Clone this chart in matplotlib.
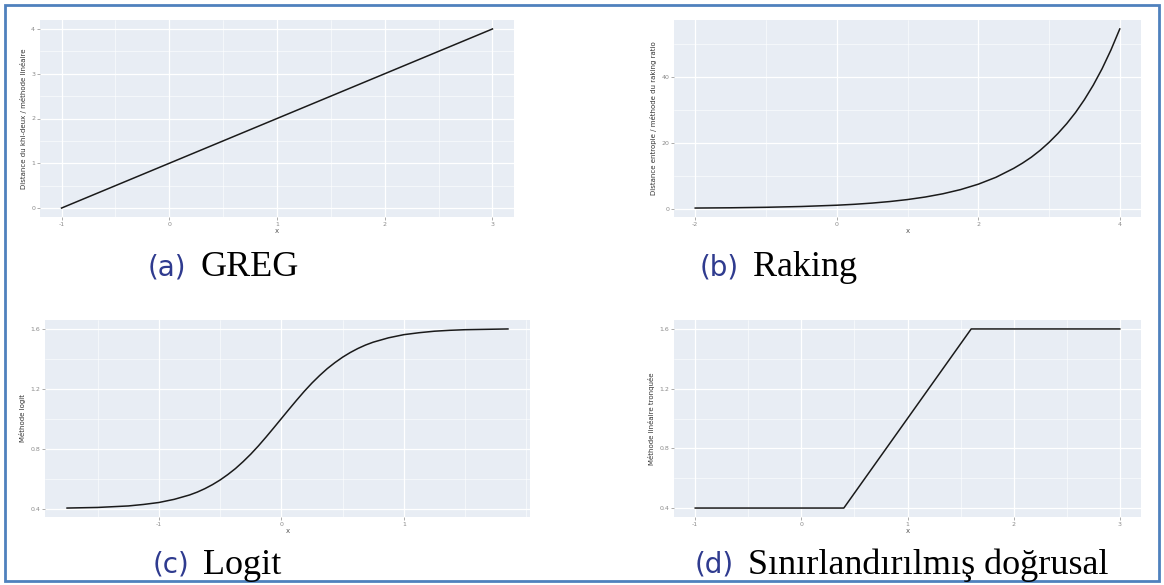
"""Four calibration distance functions (GREG, raking, logit, truncated linear)."""

import matplotlib.pyplot as plt
from matplotlib.ticker import AutoMinorLocator

# ── data ────────────────────────────────────────────────────────

greg_x = [-1, 3]
greg_y = [0, 4]

raking_x = [-2, -1.5, -1, -0.5, 0, 0.25, 0.5, 0.75, 1, 1.25, 1.5, 1.75, 2,
            2.25, 2.5, 2.625, 2.75, 2.875, 3, 3.125, 3.25, 3.375, 3.5,
            3.625, 3.75, 3.875, 4]
raking_y = [0.14, 0.22, 0.37, 0.61, 1.0, 1.28, 1.65, 2.12, 2.72, 3.49, 4.48,
            5.75, 7.39, 9.49, 12.2, 13.8, 15.6, 17.7, 20.1, 22.8, 25.8,
            29.2, 33.1, 37.5, 42.5, 48.2, 54.6]

logit_x = [-1.75, -1.5, -1.25, -1.125, -1.0, -0.875, -0.75, -0.6875, -0.625,
           -0.5625, -0.5, -0.4375, -0.375, -0.3125, -0.25, -0.1875, -0.125,
           -0.0625, 0, 0.0625, 0.125, 0.1875, 0.25, 0.3125, 0.375, 0.4375,
           0.5, 0.5625, 0.625, 0.6875, 0.75, 0.875, 1.0, 1.125, 1.25, 1.375,
           1.5, 1.85]
logit_y = [0.404, 0.408, 0.418, 0.428, 0.441, 0.462, 0.491, 0.510, 0.533,
           0.560, 0.591, 0.627, 0.667, 0.713, 0.763, 0.818, 0.877, 0.938,
           1.0, 1.062, 1.123, 1.182, 1.237, 1.287, 1.333, 1.373, 1.409,
           1.440, 1.467, 1.490, 1.509, 1.538, 1.559, 1.572, 1.582, 1.588,
           1.592, 1.597]

trunc_x = [-1, 0.4, 1.6, 3]
trunc_y = [0.4, 0.4, 1.6, 1.6]

panels = [
    # data, ticks, y label, pixel box (left, top, right, bottom),
    # caption anchor = (left edge of the caption word, vertical centre)
    dict(x=greg_x, y=greg_y, xticks=[-1, 0, 1, 2, 3], yticks=[0, 1, 2, 3, 4],
         ylabel="Distance du khi-deux / méthode linéaire",
         box=(40, 20, 514, 217), tag="(a)", name="GREG", cap=(200, 268)),
    dict(x=raking_x, y=raking_y, xticks=[-2, 0, 2, 4], yticks=[0, 20, 40],
         ylabel="Distance entropie / méthode du raking ratio",
         box=(674, 20, 1141, 217), tag="(b)", name="Raking", cap=(753, 268)),
    dict(x=logit_x, y=logit_y, xticks=[-1, 0, 1], yticks=[0.4, 0.8, 1.2, 1.6],
         ylabel="Méthode logit",
         box=(45, 320, 530, 517), tag="(c)", name="Logit", cap=(203, 565)),
    dict(x=trunc_x, y=trunc_y, xticks=[-1, 0, 1, 2, 3],
         yticks=[0.4, 0.8, 1.2, 1.6],
         ylabel="Méthode linéaire tronquée",
         box=(674, 320, 1141, 517), tag="(d)", name="Sınırlandırılmış doğrusal",
         cap=(748, 565)),
]

W, H = 1164, 585
PANEL_BG = '#e8edf4'
TICK_GREY = '#8a8a8a'
TAG_BLUE = '#2f3b8f'


def px_box(left, top, right, bottom):
    return [left / W, 1 - bottom / H, (right - left) / W, (bottom - top) / H]


def expand(vals, frac=0.05):
    lo, hi = min(vals), max(vals)
    pad = (hi - lo) * frac
    return lo - pad, hi + pad


def fmt(v):
    return f"{v:g}"


fig = plt.figure(figsize=(W / 100, H / 100), dpi=100)
fig.patch.set_facecolor('white')

for p in panels:
    ax = fig.add_axes(px_box(*p['box']))
    ax.set_facecolor(PANEL_BG)
    ax.plot(p['x'], p['y'], color='#1a1a1a', lw=1.1)
    ax.set_xlim(*expand(p['x']))
    ax.set_ylim(*expand(p['y']))

    ax.set_xticks(p['xticks'])
    ax.set_yticks(p['yticks'])
    ax.set_xticklabels([fmt(t) for t in p['xticks']])
    ax.set_yticklabels([fmt(t) for t in p['yticks']])
    ax.xaxis.set_minor_locator(AutoMinorLocator(2))
    ax.yaxis.set_minor_locator(AutoMinorLocator(2))
    ax.grid(which='major', color='white', lw=0.9)
    ax.grid(which='minor', color='white', lw=0.4)
    ax.tick_params(which='major', length=2, width=0.5, color=TICK_GREY,
                   labelsize=4.5, labelcolor=TICK_GREY, pad=1.5)
    ax.tick_params(which='minor', length=0)
    for s in ax.spines.values():
        s.set_visible(False)
    ax.set_axisbelow(True)

    ax.set_xlabel("x", fontsize=5, color='#555555', labelpad=1)
    ax.set_ylabel(p['ylabel'], fontsize=5, color='#333333', labelpad=3)

    cx, cy = p['cap']
    fig.text((cx - 14) / W, 1 - cy / H, p['tag'], ha='right', va='center',
             fontsize=20, color=TAG_BLUE, family='DejaVu Sans')
    fig.text(cx / W, 1 - cy / H, p['name'], ha='left', va='center',
             fontsize=26, color='black', family='Liberation Serif')

# blue frame round the whole picture
frame = plt.Rectangle((5 / W, 4 / H), 1 - 10 / W, 1 - 9 / H,
                      transform=fig.transFigure, fill=False,
                      edgecolor='#4f81bd', lw=2)
fig.patches.append(frame)

fig.savefig('out.png', dpi=100)
